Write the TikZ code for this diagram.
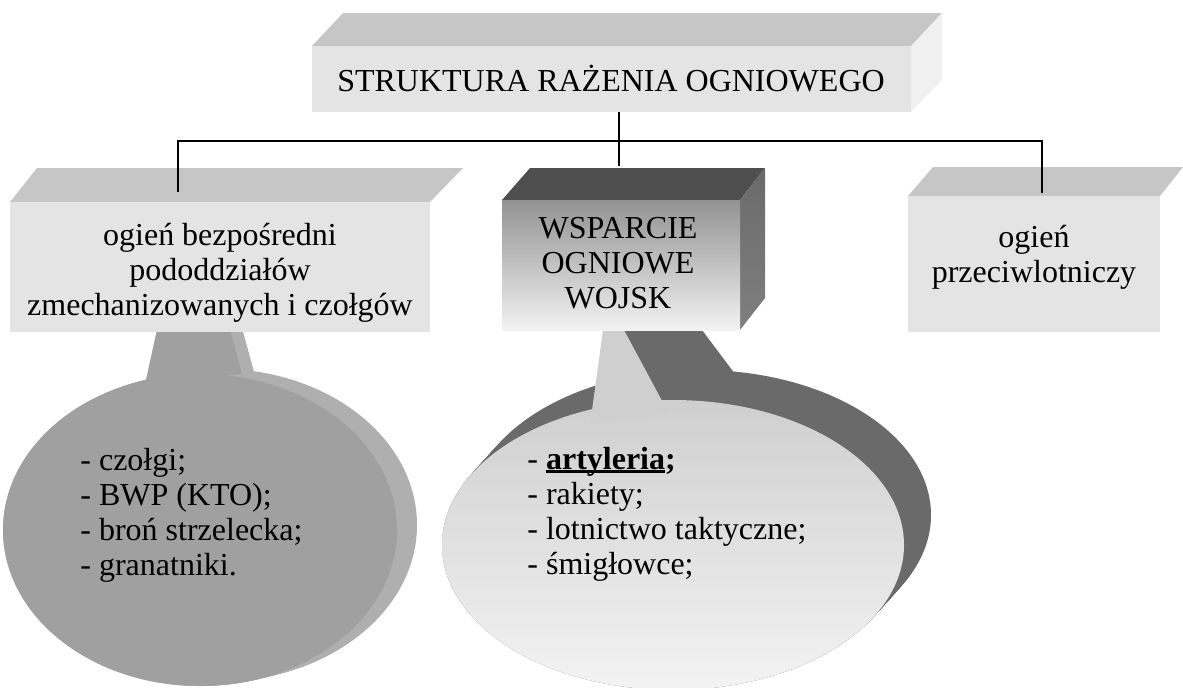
\documentclass[tikz,border=0pt]{standalone}
\usepackage{fontspec}
\setmainfont{Liberation Serif}
\definecolor{topA}{HTML}{C6C6C6}
\definecolor{frontA}{HTML}{E4E4E4}
\definecolor{sideA}{HTML}{F0F0F0}
\definecolor{darkTop}{HTML}{4E4E4E}
\definecolor{darkSide}{HTML}{6A6A6A}
\definecolor{midFrontTop}{HTML}{929292}
\definecolor{midFrontBot}{HTML}{F2F2F2}
\definecolor{bubLeft}{HTML}{A0A0A0}
\definecolor{bubLeftBack}{HTML}{AFAFAF}
\definecolor{bubMidBack}{HTML}{6A6A6A}
\definecolor{bubMidTop}{HTML}{CFCFCF}
\definecolor{bubMidBot}{HTML}{F3F3F3}
\newcommand\ulbar[1]{\setbox0=\hbox{#1}\rlap{\rule[-1.7pt]{\wd0}{1.2pt}}\box0}
\tikzset{
  txt/.style={inner sep=0pt, font=\fontsize{16}{17.5}\selectfont, text=black},
  link/.style={line width=1.1pt, black},
}
\begin{document}
\begin{tikzpicture}[x=0.5pt,y=-0.5pt]
\useasboundingbox (0,0) rectangle (1183,687);

% ---- left speech bubble (extruded) ----
\foreach \i in {0,...,20}{
  \fill[bubLeftBack, shift={(1.0*\i,-0.25*\i)}] (200,530) ellipse [x radius=197, y radius=156];
  \fill[bubLeftBack, shift={(0.6*\i,-0.1*\i)}] (157,330)--(230,330)--(242,374)--(145,385)--cycle;
}
\fill[bubLeft] (200,530) ellipse [x radius=197, y radius=156];
\fill[bubLeft] (157,330)--(230,330)--(242,374)--(145,385)--cycle;

% ---- middle speech bubble (extruded) ----
\foreach \i in {0,...,20}{
  \fill[bubMidBack, shift={(1.35*\i,-1.5*\i)}] (673,545) ellipse [x radius=231, y radius=145];
}
\fill[bubMidBack] (620,330)--(702,330)--(738,378)--(668,412)--cycle;
\shade[top color=bubMidTop, bottom color=bubMidBot] (673,545) ellipse [x radius=231, y radius=145];
\fill[bubMidTop] (603,330)--(624,330)--(668,412)--(590,425)--cycle;

% ---- top box ----
\fill[topA] (312,46)--(343,13)--(942,13)--(911,46)--cycle;
\fill[sideA] (911,46)--(942,13)--(942,80)--(911,112)--cycle;
\fill[frontA] (312,46) rectangle (911,112);

% ---- left box ----
\fill[topA] (10,202)--(37,168)--(463,168)--(430,202)--cycle;
\fill[frontA] (10,202) rectangle (430,332);

% ---- middle box ----
\fill[darkTop] (502,200)--(530,168)--(765,168)--(740,200)--cycle;
\shade[top color=darkSide, bottom color=black!50] (740,200)--(765,168)--(765,298)--(740,330)--cycle;
\shade[top color=midFrontTop, bottom color=midFrontBot] (502,200) rectangle (740,330);

% ---- right box ----
\fill[topA] (908,196)--(933,167)--(1183,167)--(1160,196)--cycle;
\fill[frontA] (908,196) rectangle (1160,332);

% ---- texts ----
\node[txt] (title) at (611,79) {STRUKTURA RAŻENIA OGNIOWEGO};
\node[txt, align=center] (direct) at (220,273) {ogień bezpośredni\\pododdziałów\\zmechanizowanych i czołgów};
\node[txt, align=center] (support) at (618,263) {WSPARCIE\\OGNIOWE\\WOJSK};
\node[txt, align=center] (aa) at (1034,257) {ogień\\przeciwlotniczy};
\node[txt, align=left, anchor=west] (leftlist) at (80,515) {- czołgi;\\- BWP (KTO);\\- broń strzelecka;\\- granatniki.};
\node[txt, align=left, anchor=west] (midlist) at (527,514) {- \ulbar{\textbf{artyleria}}\textbf{;}\\- rakiety;\\- lotnictwo taktyczne;\\- śmigłowce;};

% ---- connectors ----
\coordinate (stem) at (619,112);
\coordinate (bus) at (619,141);
\coordinate (ldrop) at (178,192);
\coordinate (mdrop) at (619,166);
\coordinate (rdrop) at (1042,193);
\draw[link] (stem) -- (bus);
\draw[link] (ldrop) -- (ldrop |- bus) -- (rdrop |- bus) -- (rdrop);
\draw[link] (bus) -- (mdrop);
\end{tikzpicture}
\end{document}
